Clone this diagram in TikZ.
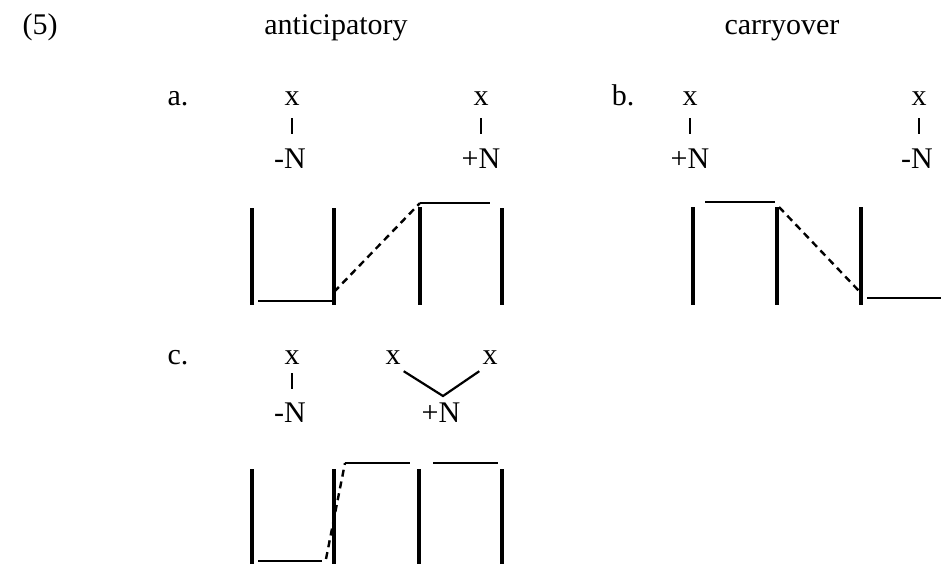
\documentclass[tikz,border=0pt]{standalone}
\usepackage{fontspec}
\setmainfont{Liberation Serif}
\begin{document}
\begin{tikzpicture}[x=1pt,y=-1pt,
  lbl/.style={font=\fontsize{30}{36}\selectfont, inner sep=0pt, anchor=base},
  bar/.style={line width=3.2pt},
  hl/.style={line width=2.2pt},
  dl/.style={line width=2.4pt, dash pattern=on 7pt off 5pt},
  tickline/.style={line width=2.2pt},
  vline/.style={line width=2.2pt}]
\useasboundingbox (0,0) rectangle (941,564);
% headings
\node[lbl] (num) at (40,35) {(5)};
\node[lbl] (ant) at (336,35) {anticipatory};
\node[lbl] (car) at (782,35) {carryover};
% part a
\node[lbl] (la) at (178,106) {a.};
\node[lbl] (ax1) at (292,106) {x};
\node[lbl] (aN1) at (290,168) {-N};
\node[lbl] (ax2) at (481,106) {x};
\node[lbl] (aN2) at (481,168) {+N};
\draw[tickline,shorten <=12pt,shorten >=14pt] (ax1.south) -- (ax1.south |- aN1.north);
\draw[tickline,shorten <=12pt,shorten >=14pt] (ax2.south) -- (ax2.south |- aN2.north);
\draw[bar] (252,208) -- (252,305);
\draw[bar] (334,208) -- (334,305);
\draw[bar] (420,207) -- (420,305);
\draw[bar] (502,208) -- (502,305);
\draw[hl] (258,301) -- (332,301);
\draw[hl] (420,203) -- (490,203);
\draw[dl] (334,292) -- (420,203);
% part b
\node[lbl] (lb) at (623,106) {b.};
\node[lbl] (bx1) at (690,106) {x};
\node[lbl] (bN1) at (690,168) {+N};
\node[lbl] (bx2) at (919,106) {x};
\node[lbl] (bN2) at (917,168) {-N};
\draw[tickline,shorten <=12pt,shorten >=14pt] (bx1.south) -- (bx1.south |- bN1.north);
\draw[tickline,shorten <=12pt,shorten >=14pt] (bx2.south) -- (bx2.south |- bN2.north);
\draw[bar] (693,207) -- (693,305);
\draw[bar] (777,207) -- (777,305);
\draw[bar] (861,207) -- (861,305);
\draw[hl] (705,202) -- (775,202);
\draw[hl] (867,298) -- (941,298);
\draw[dl] (779,207) -- (860,292);
% part c
\node[lbl] (lc) at (178,364) {c.};
\node[lbl] (cx1) at (292,364) {x};
\node[lbl] (cN1) at (290,422) {-N};
\node[lbl] (cx2) at (393,364) {x};
\node[lbl] (cx3) at (490,364) {x};
\node[lbl] (cN2) at (441,422) {+N};
\draw[tickline,shorten <=9pt,shorten >=13pt] (cx1.south) -- (cx1.south |- cN1.north);
\coordinate (cv) at (443,396);
\draw[vline] ([shift={(3,7)}]cx2.south east) -- (cv) -- ([shift={(-3,7)}]cx3.south west);
\draw[bar] (252,469) -- (252,564);
\draw[bar] (334,469) -- (334,564);
\draw[bar] (419,469) -- (419,564);
\draw[bar] (502,469) -- (502,564);
\draw[hl] (258,561) -- (322,561);
\draw[hl] (345,463) -- (410,463);
\draw[hl] (433,463) -- (498,463);
\draw[dl] (326,559) -- (345,463);
\end{tikzpicture}
\end{document}
